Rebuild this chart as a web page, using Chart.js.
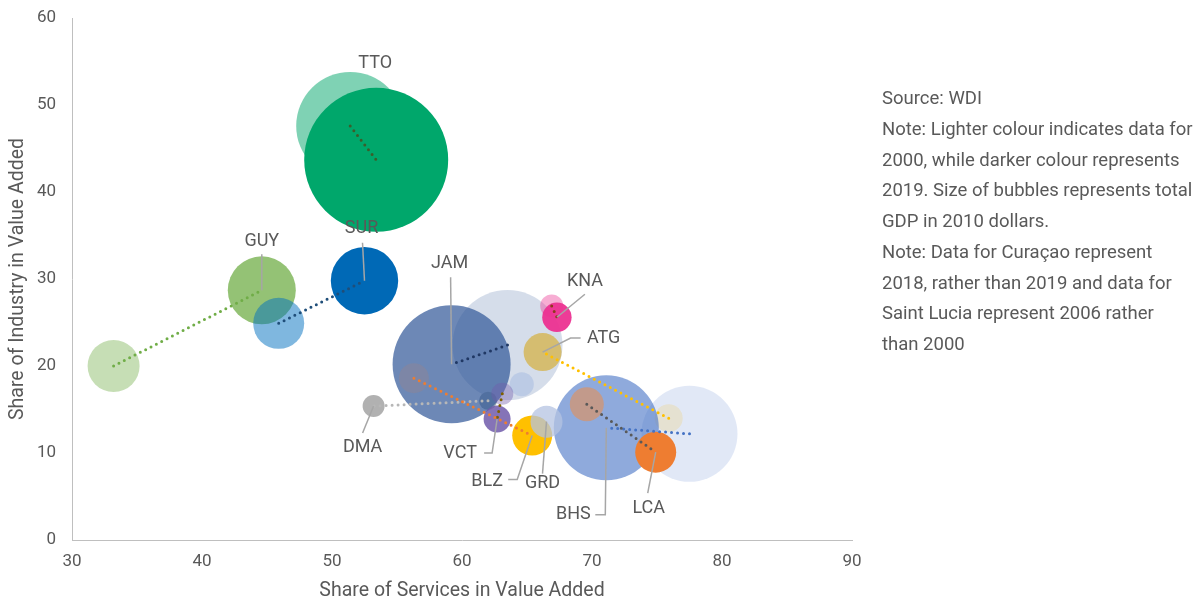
<!DOCTYPE html>
<html>
<head>
<meta charset="utf-8">
<script src="https://cdn.jsdelivr.net/npm/chart.js@4.4.0/dist/chart.umd.min.js"></script>
<style>
	html, body { margin: 0; padding: 0; background: #ffffff; }
	#wrap { position: relative; width: 1201px; height: 605px; }
	#note {
		position: absolute; left: 882px; top: 83px; width: 319px; white-space: nowrap;
		font-family: Roboto, sans-serif; font-size: 18.5px; line-height: 30.75px; color: #595959;
	}
</style>
</head>
<body>
<div id="wrap">
	<canvas id="bubbleChart" width="1201" height="605"></canvas>
	<div id="note">Source: WDI<br>Note: Lighter colour indicates data for<br>2000, while darker colour represents<br>2019. Size of bubbles represents total<br>GDP in 2010 dollars.<br>Note: Data for Curaçao represent<br>2018, rather than 2019 and data for<br>Saint Lucia represent 2006 rather<br>than 2000</div>
</div>
<script>
// Data
const countries = ['TTO', 'GUY', 'SUR', 'JAM', 'KNA', 'ATG', 'BHS', 'LCA', 'DMA', 'VCT', 'BLZ', 'GRD'];

// 2000 (2006 for Saint Lucia)
const services2000 = [51.4, 33.2, 45.9, 63.5, 66.9, 75.9, 77.5, 69.6, 62.0, 63.1, 56.3, 64.6];
const industry2000 = [47.6, 20.0, 24.9, 22.4, 26.9, 14.0, 12.2, 15.6, 16.0, 16.8, 18.6, 17.9];
const gdpSize2000 = [54, 26, 25.5, 55, 11.5, 14, 48, 17, 9, 11, 15, 12];

// 2019
const services2019 = [53.4, 44.6, 52.5, 59.2, 67.3, 66.2, 71.1, 74.9, 53.2, 62.7, 65.4, 66.5];
const industry2019 = [43.7, 28.7, 29.8, 20.2, 25.6, 21.6, 12.9, 10.1, 15.4, 13.9, 12.0, 13.6];
const gdpSize2019 = [72, 34, 33.7, 59, 14.7, 19, 52.5, 20.5, 11, 13.5, 20, 16];

const xTicks = [30, 40, 50, 60, 70, 80, 90];
const yTicks = [0, 10, 20, 30, 40, 50, 60];

// Colours
const fill2000 = {
	TTO: 'rgba(0,166,106,0.5)', GUY: 'rgba(112,173,71,0.4)', SUR: 'rgba(0,112,192,0.5)',
	JAM: 'rgba(47,85,151,0.2)', KNA: 'rgba(236,50,145,0.4)', ATG: '#e5e1d1',
	BHS: 'rgba(68,114,196,0.16)', LCA: '#c29a8b', DMA: 'rgb(161,174,180)',
	VCT: 'rgba(112,90,170,0.4)', BLZ: 'rgba(237,125,49,0.12)', GRD: 'rgba(142,170,220,0.35)'
};
const fill2019 = {
	TTO: '#00a76b', GUY: 'rgba(112,173,71,0.75)', SUR: '#0069b6',
	JAM: 'rgba(47,85,151,0.7)', KNA: 'rgba(236,50,145,0.95)', ATG: '#d5bd70',
	BHS: 'rgba(68,114,196,0.6)', LCA: '#ee7d31', DMA: '#b1b1b1',
	VCT: 'rgba(112,90,170,0.85)', BLZ: '#ffc000', GRD: 'rgba(180,195,225,0.75)'
};
const lineColour = {
	TTO: '#3b5e2b', GUY: '#70ad47', SUR: '#1f4e79', JAM: '#203864', KNA: '#8e3a1c',
	ATG: '#ffc000', BHS: '#4472c4', LCA: '#595959', DMA: '#b7b7b7', VCT: '#7f6000',
	BLZ: '#ed7d31'
};

// Bottom to top
const drawOrder = [
	['JAM', 0], ['BHS', 0], ['TTO', 0], ['TTO', 1], ['GUY', 0], ['GUY', 1], ['SUR', 0], ['SUR', 1],
	['DMA', 0], ['JAM', 1], ['BLZ', 0], ['GRD', 0], ['VCT', 0], ['VCT', 1], ['KNA', 0], ['KNA', 1],
	['ATG', 1], ['ATG', 0], ['BHS', 1], ['LCA', 0], ['LCA', 1], ['BLZ', 1], ['GRD', 1], ['DMA', 1]
];

// Label offsets (px) from the 2019 bubble, and leader line points
const labelLayout = {
	TTO: { dx: -1, dy: -96, leader: null },
	GUY: { dx: 0, dy: -49, leader: [[0, -36]] },
	SUR: { dx: -3, dy: -52, leader: [[-2, -38]] },
	JAM: { dx: -2, dy: -101, leader: [[-1, -87]] },
	KNA: { dx: 28, dy: -36, leader: [[28, -23]] },
	ATG: { dx: 61, dy: -14, leader: [[38, -14], [28, -14]] },
	DMA: { dx: -11, dy: 41, leader: [[-11, 27]] },
	VCT: { dx: -37, dy: 34, leader: [[-13, 34], [-5, 34]] },
	BLZ: { dx: -45, dy: 46, leader: [[-24, 44], [-15, 44]] },
	GRD: { dx: -4, dy: 62, leader: [[-4, 52]] },
	BHS: { dx: -33, dy: 87, leader: [[-11, 87], [-1, 87]] },
	LCA: { dx: -7, dy: 56, leader: [[-8, 41]] }
};

const textColor = '#595959';
const axisColor = '#bfbfbf';

const bubbleSets = drawOrder.map(([c, yr]) => {
	const i = countries.indexOf(c);
	return {
		type: 'bubble',
		label: c + (yr ? ' 2019' : ' 2000'),
		data: [{
			x: yr ? services2019[i] : services2000[i],
			y: yr ? industry2019[i] : industry2000[i],
			r: yr ? gdpSize2019[i] : gdpSize2000[i]
		}],
		backgroundColor: yr ? fill2019[c] : fill2000[c],
		borderWidth: 0
	};
});

const lineSets = countries.filter(c => lineColour[c]).map(c => {
	const i = countries.indexOf(c);
	return {
		type: 'line',
		label: c + ' change',
		data: [
			{ x: services2000[i], y: industry2000[i] },
			{ x: services2019[i], y: industry2019[i] }
		],
		borderColor: lineColour[c],
		borderWidth: 3,
		borderDash: [0, 6],
		borderCapStyle: 'round',
		pointRadius: 0,
		fill: false,
		tension: 0
	};
});

const datasets = [...bubbleSets, ...lineSets];
// Higher order is drawn first, so the first entry ends up at the bottom
datasets.forEach((d, i) => { d.order = datasets.length - i; });

const labelPlugin = {
	id: 'countryLabels',
	afterDatasetsDraw(chart) {
		const { ctx } = chart;
		const xs = chart.scales.x;
		const ys = chart.scales.y;
		ctx.save();
		ctx.font = '18px Roboto';
		ctx.fillStyle = textColor;
		ctx.textAlign = 'center';
		ctx.textBaseline = 'middle';
		ctx.strokeStyle = '#a6a6a6';
		ctx.lineWidth = 1.5;
		countries.forEach((c, i) => {
			const px = xs.getPixelForValue(services2019[i]);
			const py = ys.getPixelForValue(industry2019[i]);
			const lay = labelLayout[c];
			if (lay.leader) {
				ctx.beginPath();
				lay.leader.forEach(([lx, ly], k) => {
					if (k === 0) ctx.moveTo(px + lx, py + ly);
					else ctx.lineTo(px + lx, py + ly);
				});
				ctx.lineTo(px, py);
				ctx.stroke();
			}
			ctx.fillText(c, px + lay.dx, py + lay.dy);
		});
		ctx.restore();
	}
};

const ctx = document.getElementById('bubbleChart').getContext('2d');
new Chart(ctx, {
	type: 'bubble',
	data: { datasets: datasets },
	plugins: [labelPlugin],
	options: {
		responsive: false,
		animation: false,
		events: [],
		layout: { autoPadding: false, padding: { top: 18, right: 349, left: 0, bottom: 0 } },
		plugins: {
			legend: { display: false },
			tooltip: { enabled: false }
		},
		scales: {
			x: {
				type: 'linear',
				min: xTicks[0],
				max: xTicks[xTicks.length - 1],
				afterBuildTicks: (scale) => { scale.ticks = xTicks.map(v => ({ value: v })); },
				afterFit: (scale) => {
					scale.height = 65;
					scale.paddingLeft = 0;
					scale.paddingRight = 0;
				},
				ticks: { color: textColor, padding: 12, font: { family: 'Roboto', size: 17 } },
				grid: { display: false, drawTicks: false },
				border: { display: true, color: axisColor, width: 1 },
				title: {
					display: true,
					text: 'Share of Services in Value Added',
					color: textColor,
					font: { family: 'Roboto', size: 19.5 },
					padding: { top: 0, bottom: 2 }
				}
			},
			y: {
				type: 'linear',
				min: yTicks[0],
				max: yTicks[yTicks.length - 1],
				afterBuildTicks: (scale) => { scale.ticks = yTicks.map(v => ({ value: v })); },
				afterFit: (scale) => {
					scale.width = 72;
					scale.paddingTop = 0;
					scale.paddingBottom = 0;
				},
				ticks: { color: textColor, padding: 16, font: { family: 'Roboto', size: 17 } },
				grid: { display: false, drawTicks: false },
				border: { display: true, color: axisColor, width: 1 },
				title: {
					display: true,
					text: 'Share of Industry in Value Added',
					color: textColor,
					font: { family: 'Roboto', size: 19.5 },
					padding: { top: 6, bottom: 0 }
				}
			}
		}
	}
});
</script>
</body>
</html>
